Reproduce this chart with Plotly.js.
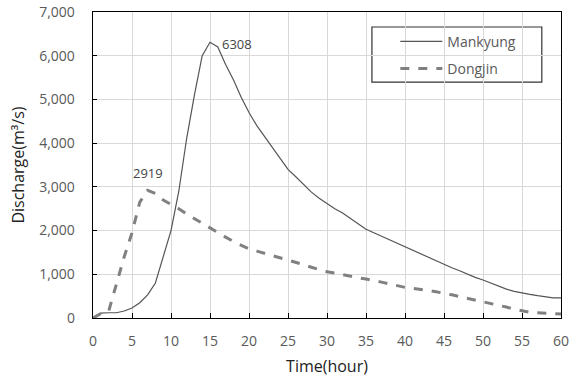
<!DOCTYPE html>
<html><head><meta charset="utf-8">
<script src="https://cdn.plot.ly/plotly-3.0.1.min.js"></script>
<style>html,body{margin:0;padding:0;background:#fff}#c{width:570px;height:377px}</style>
</head><body><div id="c"></div>
<script>
const hours = Array.from({length: 61}, (_, i) => i);
const mankyung = [0,110,120,120,160,230,350,530,800,1400,2000,2900,4100,5100,6000,6308,6200,5800,5450,5050,4700,4400,4150,3900,3650,3400,3230,3050,2880,2740,2610,2500,2400,2270,2140,2030,1950,1870,1790,1710,1630,1550,1460,1380,1300,1220,1150,1080,1000,930,870,800,730,660,610,570,540,510,480,460,460];
const dongjin = [0,100,150,800,1400,1950,2650,2919,2850,2700,2600,2500,2380,2270,2160,2050,1950,1850,1750,1660,1580,1530,1480,1430,1380,1330,1270,1220,1160,1110,1060,1030,990,950,920,890,860,820,780,740,700,680,660,630,600,570,530,490,450,410,380,340,300,250,200,160,130,120,110,100,90];
const seriesNames = ["Mankyung", "Dongjin"];

const font = "'Open Sans', 'Noto Sans', sans-serif";
const iM = mankyung.indexOf(Math.max(...mankyung));
const iD = dongjin.indexOf(Math.max(...dongjin));

const traces = [
  {x: hours, y: mankyung, name: seriesNames[0], legendgroup: "a", mode: "lines", line: {color: "#555555", width: 1.2}},
  {x: hours, y: dongjin, name: seriesNames[1], legendgroup: "b", mode: "lines", line: {color: "#808080", width: 3, dash: "dash"}}
];
const layout = {
  width: 570, height: 377,
  margin: {l: 93, r: 9, t: 12, b: 59},
  paper_bgcolor: "#fff", plot_bgcolor: "#fff",
  font: {family: font, size: 14, color: "#595959"},
  showlegend: true,
  legend: {x: 0.646, y: 0.955, xanchor: "left", yanchor: "top", bgcolor: "rgba(0,0,0,0)", borderwidth: 0,
           traceorder: "grouped", tracegroupgap: 6, itemwidth: 42,
           font: {size: 14, color: "#595959"}},
  shapes: [
    {type: "rect", xref: "paper", yref: "paper", x0: 0.596, x1: 0.959, y0: 0.771, y1: 0.951,
     line: {color: "#333", width: 1.2}, fillcolor: "#fff", layer: "below"}
  ],
  xaxis: {range: [0, 60], dtick: 5, tick0: 0, ticks: "inside", ticklen: 5, tickcolor: "#000",
          ticklabelstandoff: 10,
          showline: true, linecolor: "#000", linewidth: 1.3, mirror: true,
          showgrid: true, gridcolor: "#d9d9d9", zeroline: false,
          title: {text: "Time(hour)", font: {size: 16, color: "#222"}, standoff: 12}},
  yaxis: {range: [0, 7000], dtick: 1000, tickformat: ",d", ticks: "inside", ticklen: 4, tickcolor: "#000",
          ticklabelstandoff: 14,
          showline: true, linecolor: "#000", linewidth: 1.3, mirror: true,
          showgrid: true, gridcolor: "#d9d9d9", zeroline: false,
          title: {text: "Discharge(m³/s)", font: {size: 16, color: "#222"}, standoff: 10}},
  annotations: [
    {x: hours[iM], y: mankyung[iM], text: String(mankyung[iM]), showarrow: false, xanchor: "left", yanchor: "middle", xshift: 10, yshift: -2, font: {size: 13, color: "#444"}},
    {x: hours[iD], y: dongjin[iD], text: String(dongjin[iD]), showarrow: false, xanchor: "center", yanchor: "bottom", xshift: 0, yshift: 6, font: {size: 13, color: "#444"}}
  ]
};
Plotly.newPlot("c", traces, layout, {displayModeBar: false, staticPlot: true});
</script></body></html>
